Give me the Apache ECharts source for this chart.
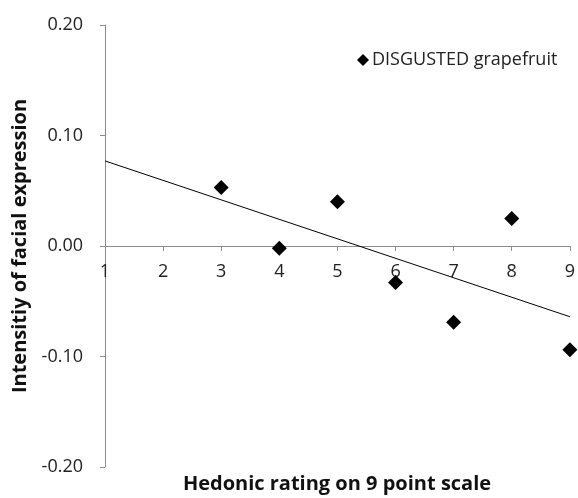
<!DOCTYPE html>
<html>
<head>
<meta charset="utf-8">
<script src="https://cdn.jsdelivr.net/npm/echarts@6/dist/echarts.min.js"></script>
<style>
  html, body { margin: 0; padding: 0; background: #fff; }
  #chart { width: 578px; height: 498px; }
</style>
</head>
<body>
<div id="chart"></div>
<script>
// hedonic rating (x) vs mean intensity of the disgusted expression (y)
const ratings = [3, 4, 5, 6, 7, 8, 9]
const intensity = [0.053, -0.002, 0.040, -0.033, -0.069, 0.025, -0.094]
// linear trend line, ends
const trendX = [1, 9]
const trendY = [0.077, -0.064]

const seriesName = 'DISGUSTED grapefruit'
const xTitle = 'Hedonic rating on 9 point scale'
const yTitle = 'Intensitiy of facial expression'

const font = '"Open Sans", "DejaVu Sans", sans-serif'
const axisGray = '#8c8c8c'

const chart = echarts.init(document.getElementById('chart'), null, { renderer: 'canvas' })

// plot area 105..570 x 25..467, the x axis sits on y = 0 (221px above the bottom)
chart.setOption({
  animation: false,
  backgroundColor: '#fff',
  textStyle: { fontFamily: font },
  grid: { left: 105, right: 8, top: 25, bottom: 31 },
  legend: {
    data: [{ name: seriesName, icon: 'diamond' }],
    left: 352,
    top: 46,
    itemWidth: 12,
    itemHeight: 12,
    itemGap: 4,
    itemStyle: { opacity: 1 },
    textStyle: { fontFamily: font, fontSize: 18, color: '#222', padding: [0, 0, 0, -2] }
  },
  xAxis: {
    type: 'value',
    min: 1,
    max: 9,
    interval: 1,
    offset: -221,
    splitLine: { show: false },
    axisLine: { onZero: false, lineStyle: { color: axisGray, width: 1 } },
    axisTick: { show: true, length: 5, lineStyle: { color: axisGray } },
    axisLabel: { margin: 17, fontSize: 18, color: '#222', fontFamily: font }
  },
  yAxis: {
    type: 'value',
    min: -0.2,
    max: 0.2,
    interval: 0.1,
    splitLine: { show: false },
    axisLine: { show: true, onZero: false, lineStyle: { color: axisGray, width: 1 } },
    axisTick: { show: true, length: 5, lineStyle: { color: axisGray } },
    axisLabel: {
      margin: 22,
      fontSize: 18,
      color: '#222',
      fontFamily: font,
      formatter: (v) => v.toFixed(2)
    }
  },
  graphic: [
    {
      type: 'text',
      x: 337,
      y: 484,
      style: {
        text: xTitle,
        fill: '#111',
        font: 'bold 20px ' + font,
        textAlign: 'center',
        textVerticalAlign: 'middle'
      }
    },
    {
      type: 'text',
      x: 20,
      y: 246,
      rotation: Math.PI / 2,
      style: {
        text: yTitle,
        fill: '#111',
        font: 'bold 20px ' + font,
        textAlign: 'center',
        textVerticalAlign: 'middle'
      }
    }
  ],
  series: [
    {
      name: 'trend',
      type: 'line',
      data: trendX.map((x, i) => [x, trendY[i]]),
      symbol: 'none',
      lineStyle: { color: '#000', width: 1 },
      silent: true,
      z: 2
    },
    {
      name: seriesName,
      type: 'scatter',
      data: ratings.map((x, i) => [x, intensity[i]]),
      symbol: 'diamond',
      symbolSize: 15,
      itemStyle: { color: '#000', opacity: 1 },
      z: 3
    }
  ]
})
</script>
</body>
</html>
